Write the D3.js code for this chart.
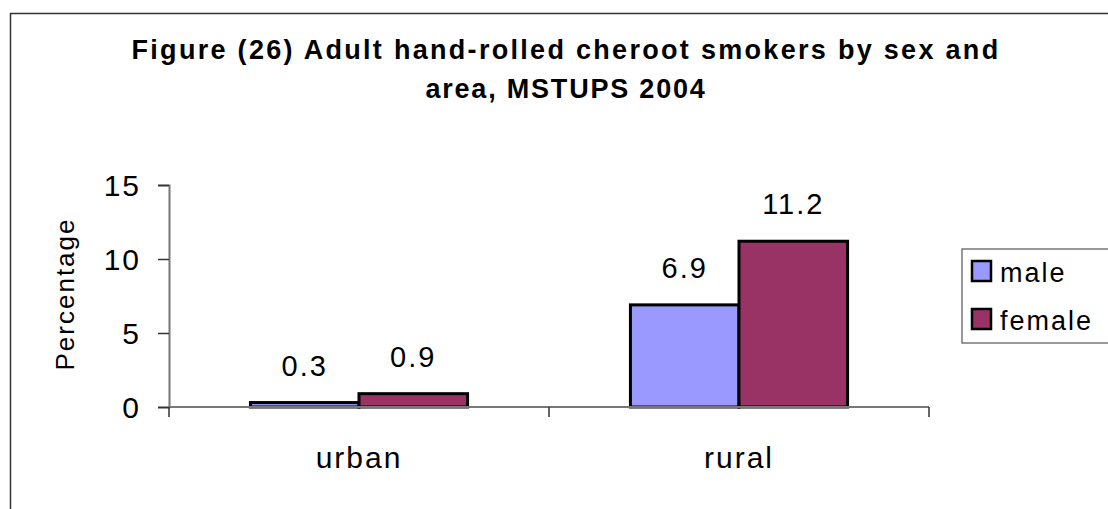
<!DOCTYPE html>
<html lang="en">

<head>
    <meta charset="UTF-8" />
    <style>
        body { margin: 0; background: #fff; }
        svg text { font-family: "Liberation Sans", Arial, sans-serif; fill: #000; }
    </style>
</head>

<body>
    <svg width="1108" height="509"></svg>
    <script src="https://cdnjs.cloudflare.com/ajax/libs/d3/7.8.5/d3.min.js"></script>
    <script>
        // data
        var areas = ["urban", "rural"];
        var sexes = ["male", "female"];
        var male = [0.3, 6.9];
        var female = [0.9, 11.2];
        var yTicks = [0, 5, 10, 15];
        var colors = ["#9999ff", "#993366"];
        var titleLines = ["Figure (26) Adult hand-rolled cheroot smokers by sex and", "area, MSTUPS 2004"];

        var svg = d3.select("svg");

        // outer chart frame (runs off the right / bottom of the picture)
        svg.append("rect")
            .attr("x", 10.5).attr("y", 13.5)
            .attr("width", 1200).attr("height", 600)
            .style("fill", "none").style("stroke", "#333").style("stroke-width", 1.5);

        // title
        svg.append("g").selectAll("text")
            .data(titleLines)
            .enter().append("text")
            .attr("x", 566)
            .attr("y", function (d, i) { return 59 + i * 39; })
            .attr("text-anchor", "middle")
            .style("font-size", "27px")
            .style("font-weight", "bold")
            .style("letter-spacing", function (d, i) { return i == 0 ? "2.3px" : "1.8px"; })
            .text(function (d) { return d; });

        var plotL = 169, plotR = 929, plotT = 185, plotB = 407;

        var x0 = d3.scaleBand().domain(areas).range([plotL, plotR]).paddingInner(0).paddingOuter(0);
        // Excel gap width 150% -> group = 2 bars, gap = 1.5 bars
        var x1 = d3.scaleBand().domain(sexes).range([0, x0.bandwidth() * 2 / 3.5]);
        var y = d3.scaleLinear().domain([0, 15]).range([plotB, plotT]);

        var rows = areas.map(function (a, i) {
            return { area: a, values: [male[i], female[i]] };
        });

        var groups = svg.append("g").selectAll("g")
            .data(rows)
            .enter().append("g")
            .attr("transform", function (d) {
                return "translate(" + (x0(d.area) + (x0.bandwidth() - x1.range()[1]) / 2) + ",0)";
            });

        groups.selectAll("rect")
            .data(function (d) { return d.values.map(function (v, j) { return { sex: sexes[j], v: v, c: colors[j] }; }); })
            .enter().append("rect")
            .attr("x", function (d) { return x1(d.sex); })
            .attr("y", function (d) { return y(d.v); })
            .attr("width", x1.bandwidth())
            .attr("height", function (d) { return plotB - y(d.v); })
            .style("fill", function (d) { return d.c; })
            .style("stroke", "#000")
            .style("stroke-width", 3);

        groups.selectAll("text")
            .data(function (d) { return d.values.map(function (v, j) { return { sex: sexes[j], v: v }; }); })
            .enter().append("text")
            .attr("x", function (d) { return x1(d.sex) + x1.bandwidth() / 2; })
            .attr("y", function (d) { return y(d.v) - 27; })
            .attr("text-anchor", "middle")
            .style("font-size", "29px")
            .style("letter-spacing", "2px")
            .text(function (d) { return d3.format(".1f")(d.v); });

        // y axis
        var yAxis = svg.append("g")
            .attr("transform", "translate(" + plotL + ",0)")
            .call(d3.axisLeft(y).tickValues(yTicks).tickSize(11).tickPadding(17));
        yAxis.select(".domain").style("stroke", "#777").style("stroke-width", 2);
        yAxis.selectAll(".tick line").style("stroke", "#333").style("stroke-width", 1.5);
        yAxis.selectAll(".tick text")
            .style("font-size", "30px")
            .style("font-family", "'Liberation Sans', Arial, sans-serif")
            .style("letter-spacing", "2px")
            .attr("dy", "0.36em");

        // x axis: ticks between categories, labels centred under them
        var xAxis = svg.append("g")
            .attr("transform", "translate(0," + plotB + ")");
        xAxis.append("line")
            .attr("x1", plotL).attr("x2", plotR)
            .style("stroke", "#777").style("stroke-width", 2);
        xAxis.selectAll(".xt")
            .data(areas.concat([null]))
            .enter().append("line")
            .attr("x1", function (d) { return d ? x0(d) : plotR; })
            .attr("x2", function (d) { return d ? x0(d) : plotR; })
            .attr("y1", 0).attr("y2", 10)
            .style("stroke", "#333").style("stroke-width", 1.5);
        xAxis.selectAll("text")
            .data(areas)
            .enter().append("text")
            .attr("x", function (d) { return x0(d) + x0.bandwidth() / 2; })
            .attr("y", 61)
            .attr("text-anchor", "middle")
            .style("font-size", "30px")
            .style("letter-spacing", "2px")
            .text(function (d) { return d; });

        // y axis title
        svg.append("text")
            .attr("transform", "translate(74,294) rotate(-90)")
            .attr("text-anchor", "middle")
            .style("font-size", "26px")
            .style("letter-spacing", "2px")
            .text("Percentage");

        // legend
        var legend = svg.append("g");
        legend.append("rect")
            .attr("x", 962).attr("y", 249)
            .attr("width", 200).attr("height", 94)
            .style("fill", "#fff").style("stroke", "#555").style("stroke-width", 1.2);
        var items = legend.selectAll(".item")
            .data(sexes)
            .enter().append("g")
            .attr("transform", function (d, i) { return "translate(972," + (261 + i * 48) + ")"; });
        items.append("rect")
            .attr("width", 19).attr("height", 20)
            .style("fill", function (d, i) { return colors[i]; })
            .style("stroke", "#000").style("stroke-width", 2.5);
        items.append("text")
            .attr("x", 28).attr("y", 21)
            .style("font-size", "27px")
            .style("letter-spacing", "2px")
            .text(function (d) { return d; });
    </script>
</body>

</html>
